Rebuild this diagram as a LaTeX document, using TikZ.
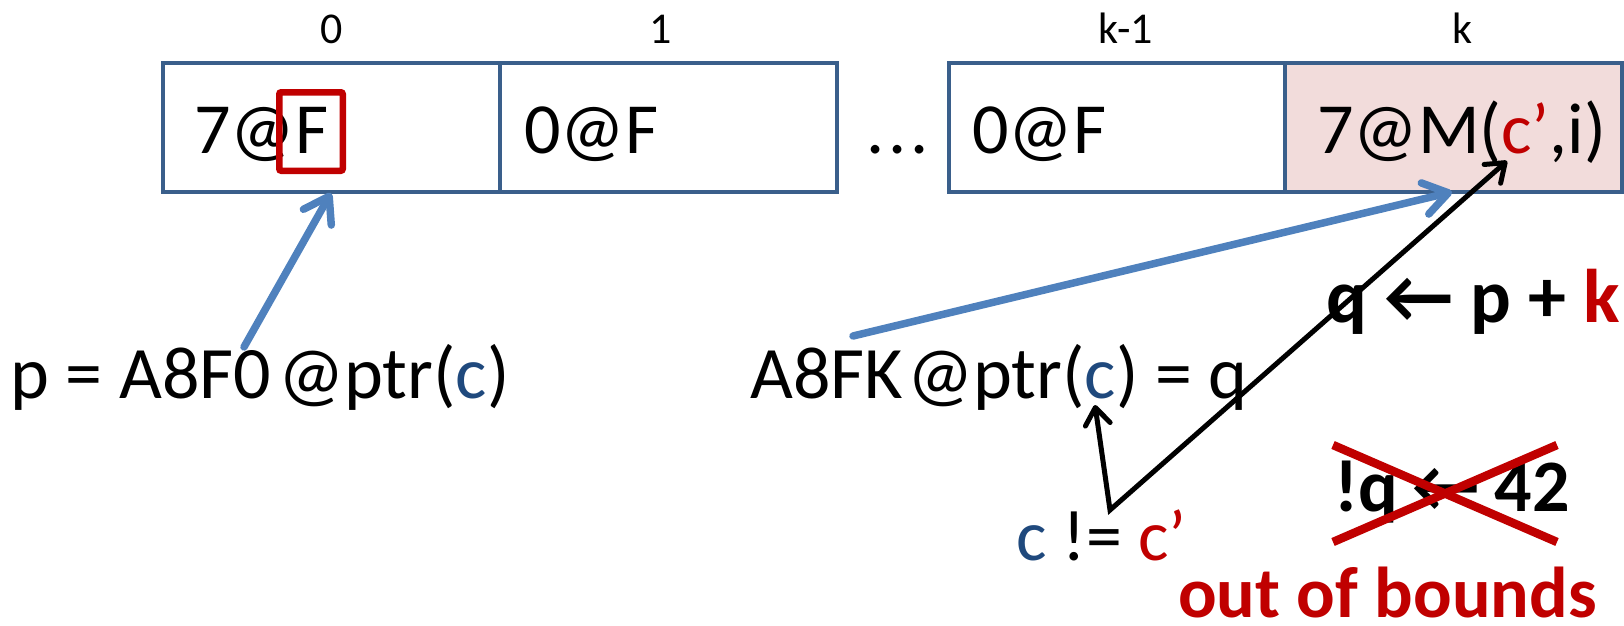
\documentclass[tikz,border=0pt]{standalone}
\usepackage{fontspec}
\setmainfont{Carlito}
\usetikzlibrary{arrows.meta}
\definecolor{boxline}{HTML}{3A5F8B}
\definecolor{accblue}{HTML}{4F81BD}
\definecolor{dred}{HTML}{C00000}
\definecolor{dblue}{HTML}{1F497D}
\definecolor{pinkfill}{HTML}{F2DCDB}
\begin{document}
\begin{tikzpicture}[x=1pt,y=-1pt,
  cell/.style={draw=boxline, line width=4.5pt, minimum width=337pt, minimum height=129pt, inner sep=0pt, outer sep=0pt},
  ctext/.style={anchor=base west, inner sep=0pt, font=\fontsize{72}{80}\selectfont},
  ltext/.style={anchor=base west, inner sep=0pt, font=\fontsize{74}{82}\selectfont},
  idx/.style={anchor=base, inner sep=0pt, font=\fontsize{44}{50}\selectfont},
  btext/.style={anchor=base west, inner sep=0pt, font=\fontsize{76}{84}\selectfont\bfseries},
  bluearrow/.style={draw=accblue, line width=7.5pt, line cap=round, -{Straight Barb[length=24pt,width=32pt,round]}},
  blackarrow/.style={draw=black, line width=5pt, {Straight Barb[length=17pt,width=25pt,round]}-{Straight Barb[length=17pt,width=25pt,round]}},
  crossline/.style={draw=dred, line width=8.5pt}]
\useasboundingbox (0,0) rectangle (1624,626);
% cells
\node[cell] (c0) at (331.5,127.5) {};
\node[cell] (c1) at (668.5,127.5) {};
\node[cell] (ck1) at (1117.5,127.5) {};
\node[cell, fill=pinkfill] (ck) at (1453.5,127.5) {};
% index labels
\node[idx] (i0) at (332,44) {0};
\node[idx] (i1) at (661,44) {1};
\node[idx] (ik1) at (1126,44) {k-1};
\node[idx] (ik) at (1462,44) {k};
% cell texts
\node[ctext] (t0) at (194,153) {7@F};
\node[ctext] (t1) at (524,153) {0@F};
\node[ctext] (dots) at (866,153) {.\kern4pt.\kern4pt.};
\node[ctext] (tk1) at (972,153) {0@F};
\node[ctext] (tk) at (1317,153) {7@M(\textcolor{dred}{c’},i)};
% red box around F
\node[draw=dred, line width=6.5pt, rounded corners=2pt, minimum width=63.5pt, minimum height=78.5pt, inner sep=0pt] (fb) at (311,131.5) {};
% bottom texts
\node[ltext] (p) at (10,398) {p = A8F0\kern7pt@ptr(\textcolor{dblue}{c})};
\node[ltext] (q) at (750,398) {A8FK\kern4pt@ptr(\textcolor{dblue}{c}) = q};
\node[ctext] (neq) at (1016,560) {\textcolor{dblue}{c} != \textcolor{dred}{c’}};
\node[btext] (assign) at (1326,322) {q ← p + \textcolor{dred}{k}};
\node[btext, font=\fontsize{74}{82}\selectfont\bfseries] (bad) at (1334,511) {!q\kern-2pt{} ←\kern-2pt{} 42};
\node[btext, font=\fontsize{72}{80}\selectfont\bfseries, text=dred] (oob) at (1178,617) {out of bounds};
% cross
\draw[crossline] (1333,445) -- (1557,542);
\draw[crossline] (1333,542) -- (1557,445);
% arrows
\coordinate (s1) at (244,347);
\coordinate (e1) at (331,193);
\coordinate (s2) at (853,336);
\coordinate (e2) at (1452,192);
\coordinate (tc) at (1095,405);
\coordinate (v) at (1110,510);
\coordinate (tcp) at (1507,161);
\draw[bluearrow] (s1) -- (e1);
\draw[bluearrow] (s2) -- (e2);
\draw[blackarrow, line join=miter] (tc) -- (v) -- (tcp);
\end{tikzpicture}
\end{document}
